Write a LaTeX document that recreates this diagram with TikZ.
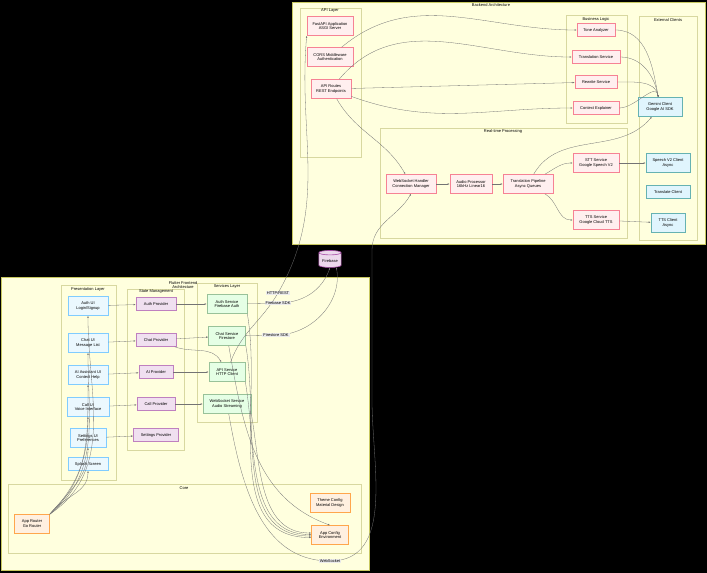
\documentclass[tikz,border=0pt]{standalone}
\usepackage{fontspec}
\setmainfont{Liberation Sans}
\usetikzlibrary{shapes.geometric,arrows.meta}
\definecolor{bgyel}{HTML}{FFFFDE}
\definecolor{bdyel}{HTML}{C8C860}
\definecolor{sgyel}{HTML}{D8D8A0}
\begin{document}
\begin{tikzpicture}[x=1pt,y=-1pt,font=\fontsize{4}{4.8}\selectfont,
    box/.style={rectangle, draw, line width=0.6pt, align=center, minimum height=19pt, minimum width=40pt, inner sep=2pt},
    be/.style={box, fill=pink!25, draw=magenta!45!red!50, minimum width=46pt},
    ui/.style={box, fill=cyan!8, draw=blue!40!cyan!50},
    prov/.style={box, fill=violet!12, draw=violet!50, minimum height=13pt},
    svc/.style={box, fill=green!10, draw=green!40!black!40},
    core/.style={box, fill=orange!12, draw=orange!70},
    ext/.style={box, fill=cyan!12, draw=teal!60, minimum width=44pt},
    group/.style={draw=bdyel, fill=bgyel, line width=0.8pt},
    sub/.style={draw=sgyel, fill=bgyel},
    arrow/.style={-{Latex[length=2pt]}, draw=black!55, line width=0.3pt},
    lbl/.style={fill=gray!15, inner sep=1pt}]
\fill[black] (0,0) rectangle (707,573);
\useasboundingbox (0,0) rectangle (707,573);

% backend
\draw[group] (292,2) rectangle (705,244);
\node at (491,5) {Backend Architecture};
\draw[sub] (300,8) rectangle (361,157);
\node at (330,11) {API Layer};
\draw[sub] (566,15) rectangle (627,123);
\node at (596,19) {Business Logic};
\draw[sub] (639,16) rectangle (697,240);
\node at (668,20) {External Clients};
\draw[sub] (380,128) rectangle (627,238);
\node at (503,131) {Real-time Processing};

\node[be] (fastapi) at (330,26) {FastAPI Application\\ASGI Server};
\node[be] (cors) at (330,57) {CORS Middleware\\Authentication};
\node[be, minimum width=40pt] (routes) at (331,89) {API Routes\\REST Endpoints};
\node[be, minimum height=13pt, minimum width=38pt] (tone) at (596,30) {Tone Analyzer};
\node[be, minimum height=13pt, minimum width=48pt] (trans) at (596,57) {Translation Service};
\node[be, minimum height=13pt, minimum width=42pt] (rewrite) at (596,82) {Rewrite Service};
\node[be, minimum height=13pt, minimum width=46pt] (explain) at (596,108) {Context Explainer};
\node[ext] (gemini) at (660,107) {Gemini Client\\Google AI SDK};
\node[ext] (speech) at (668,163) {Speech V2 Client\\Async};
\node[ext, minimum height=13pt] (tclient) at (668,192) {Translate Client};
\node[ext, minimum width=34pt] (ttsc) at (668,223) {TTS Client\\Async};
\node[be, minimum width=50pt] (wsh) at (411,184) {WebSocket Handler\\Connection Manager};
\node[be, minimum width=42pt] (audio) at (471,184) {Audio Processor\\16kHz Linear16};
\node[be, minimum width=50pt] (pipe) at (528,184) {Translation Pipeline\\Async Queues};
\node[be] (stt) at (596,163) {STT Service\\Google Speech V2};
\node[be] (tts) at (596,220) {TTS Service\\Google Cloud TTS};

\node[cylinder, shape border rotate=90, aspect=0.2, draw=violet!70, fill=violet!15, line width=0.6pt, minimum width=20pt, minimum height=17pt] (firebase) at (330,261) {Firebase};

% frontend
\draw[group] (1,277) rectangle (369,570);
\node[align=center] at (183,285) {Flutter Frontend\\Architecture};
\draw[sub] (61,285) rectangle (116,480);
\node at (88,289) {Presentation Layer};
\draw[sub] (127,289) rectangle (184,450);
\node at (156,292) {State Management};
\draw[sub] (197,283) rectangle (257,422);
\node at (227,286) {Services Layer};
\draw[sub] (8,484) rectangle (361,553);
\node at (184,488) {Core};

\node[ui] (authui) at (88,306) {Auth UI\\Login/Signup};
\node[ui] (chatui) at (88,343) {Chat UI\\Message List};
\node[ui] (aiui) at (88,375) {AI Assistant UI\\Context Help};
\node[ui, minimum width=42pt] (callui) at (88,407) {Call UI\\Voice Interface};
\node[ui, minimum width=36pt] (setui) at (88,438) {Settings UI\\Preferences};
\node[ui, minimum height=13pt] (splash) at (88,464) {Splash Screen};
\node[prov] (authp) at (156,304) {Auth Provider};
\node[prov] (chatp) at (156,340) {Chat Provider};
\node[prov, minimum width=34pt] (aip) at (156,372) {AI Provider};
\node[prov, minimum width=38pt] (callp) at (156,404) {Call Provider};
\node[prov, minimum width=45pt] (setp) at (156,435) {Settings Provider};
\node[svc] (auths) at (227,304) {Auth Service\\Firebase Auth};
\node[svc, minimum width=37pt] (chats) at (227,336) {Chat Service\\Firestore};
\node[svc, minimum width=36pt] (apis) at (227,372) {API Service\\HTTP Client};
\node[svc, minimum width=48pt] (wss) at (227,404) {WebSocket Service\\Audio Streaming};
\node[core, minimum width=35pt] (router) at (32,524) {App Router\\Go Router};
\node[core] (theme) at (330,503) {Theme Config\\Material Design};
\node[core, minimum width=37pt] (appcfg) at (330,535) {App Config\\Environment};

% label points
\coordinate (httpl) at (278,293);
\coordinate (fbl) at (278,303);
\coordinate (fsl) at (276,335);
\coordinate (wsl) at (330,561);

% backend edges
\draw[arrow] (cors) to[out=40,in=180] (tone);
\draw[arrow] (routes) to[out=50,in=180] (trans);
\draw[arrow] (routes) -- (rewrite);
\draw[arrow] (routes) to[out=-20,in=180] (explain);
\draw[arrow] (routes) to[out=-60,in=120] (wsh);
\foreach \s in {tone,trans,rewrite,explain}
  \draw[arrow] (\s) to[out=0,in=100] (gemini);
\draw[arrow] (wsh) -- (audio);
\draw[arrow] (audio) -- (pipe);
\draw[arrow] (pipe) to[out=60,in=-130] (gemini);
\draw[arrow] (pipe) to[out=30,in=180] (stt);
\draw[arrow] (pipe) to[out=-30,in=180] (tts);
\draw[arrow] (stt) -- (speech);
\draw[arrow] (tts) -- (ttsc);

% frontend edges
\draw[arrow] (authui) -- (authp);
\draw[arrow] (chatui) -- (chatp);
\draw[arrow] (aiui) -- (aip);
\draw[arrow] (callui) -- (callp);
\draw[arrow] (setui) -- (setp);
\draw[arrow] (authp) -- (auths);
\draw[arrow] (chatp) -- (chats);
\draw[arrow] (chatp) to[out=-20,in=120] (apis);
\draw[arrow] (aip) -- (apis);
\draw[arrow] (callp) -- (wss);
\foreach \u/\k in {authui/1,chatui/2,aiui/3,callui/4,setui/5,splash/6}
  \draw[arrow] (router.north east) to[out=30+\k*4,in=-90] (\u.south);
\foreach \s/\k in {auths/1,chats/2,apis/3,wss/4}
  \draw[arrow] (\s.south east) to[out=-80,in=180] ([yshift=\k*1.5pt-4pt]appcfg.west);
\draw[arrow] (chats) to[out=-80,in=160] (appcfg.north);

% cross edges
\draw[arrow] (apis) to[out=70,in=-120] (httpl) to[out=60,in=-95] (fastapi.south west);
\node[lbl] at (httpl) {HTTP/REST};
\draw[arrow] (auths) -- (fbl) to[out=0,in=-110] (firebase.south);
\node[lbl] at (fbl) {Firebase SDK};
\draw[arrow] (chats) -- (fsl) to[out=0,in=-80] (firebase.south east);
\node[lbl] at (fsl) {Firestore SDK};
\draw[arrow] (wss) to[out=-80,in=180] (wsl) to[out=0,in=-90] (372,400) -- (372,250) to[out=90,in=-120] (wsh.south);
\node[lbl] at (wsl) {WebSocket};
\end{tikzpicture}
\end{document}
